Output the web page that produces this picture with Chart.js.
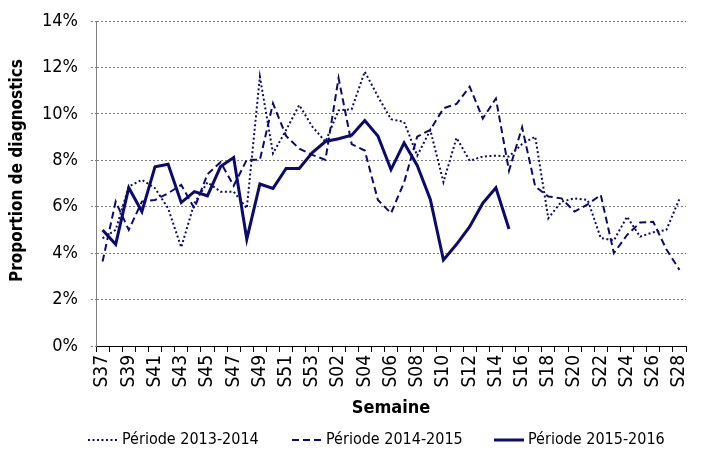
<!DOCTYPE html>
<html>
<head>
<meta charset="utf-8">
<script src="https://cdn.jsdelivr.net/npm/chart.js@4/dist/chart.umd.min.js"></script>
<style>
  html, body { margin: 0; padding: 0; background: #ffffff; }
  #wrap { width: 702px; height: 457px; position: relative; }
</style>
</head>
<body>
<div id="wrap"><canvas id="c" width="702" height="457"></canvas></div>
<script>
const weeks = ['S37','S38','S39','S40','S41','S42','S43','S44','S45','S46','S47','S48','S49','S50','S51','S52','S53',
  'S01','S02','S03','S04','S05','S06','S07','S08','S09','S10','S11','S12','S13','S14','S15','S16','S17','S18','S19',
  'S20','S21','S22','S23','S24','S25','S26','S27','S28'];

const periode2013_2014 = [4.64, 5.0, 6.87, 7.16, 6.8, 5.93, 4.25, 6.15, 7.05, 6.65, 6.65, 5.93, 11.6, 8.3, 9.3, 10.38, 9.45,
  8.8, 10.15, 10.2, 11.82, 10.75, 9.77, 9.65, 8.2, 9.3, 7.06, 8.97, 7.98, 8.16, 8.2, 8.16, 8.7, 9.02, 5.5, 6.22,
  6.36, 6.29, 4.65, 4.55, 5.57, 4.71, 4.9, 5.0, 6.34];

const periode2014_2015 = [3.64, 6.22, 5.0, 6.22, 6.29, 6.58, 6.94, 5.93, 7.4, 7.92, 6.9, 8.02, 8.02, 10.45, 9.05, 8.5, 8.23,
  8.02, 11.54, 8.7, 8.42, 6.29, 5.72, 7.05, 9.02, 9.31, 10.24, 10.43, 11.17, 9.8, 10.66, 7.55, 9.42, 6.87, 6.44, 6.36,
  5.79, 6.1, 6.51, 4.0, 4.78, 5.32, 5.35, 4.17, 3.28];

const periode2015_2016 = [5.0, 4.38, 6.82, 5.79, 7.72, 7.83, 6.18, 6.65, 6.47, 7.73, 8.12, 4.6, 6.98, 6.79, 7.65, 7.65, 8.33,
  8.81, 8.93, 9.08, 9.71, 9.05, 7.6, 8.75, 7.78, 6.31, 3.71, 4.38, 5.14, 6.15, 6.82, 5.04, null, null, null, null,
  null, null, null, null, null, null, null, null, null];

const yTicks = [0, 2, 4, 6, 8, 10, 12, 14];

const seriesNames = ['Période 2013-2014', 'Période 2014-2015', 'Période 2015-2016'];
const yTitle = 'Proportion de diagnostics';
const xTitle = 'Semaine';

const NAVY = '#0b0b6e';
const FONT = "'Liberation Sans Narrow', 'DejaVu Sans Condensed', 'Open Sans', sans-serif";

// legend layout (sample start, sample end, text start) in canvas px
const legendLayout = { y: 440, items: [[88, 118, 122], [292, 322, 326], [494, 524, 528]] };

const yTitlePlugin = {
  id: 'yTitlePlugin',
  afterDraw(chart) {
    const ctx = chart.ctx;
    const a = chart.chartArea;
    ctx.save();
    ctx.translate(18, (a.top + a.bottom) / 2 - 13);
    ctx.rotate(-Math.PI / 2);
    ctx.textAlign = 'center';
    ctx.textBaseline = 'middle';
    ctx.fillStyle = '#000';
    ctx.font = "bold 17px " + FONT;
    ctx.fillText(yTitle, 0, 0);
    ctx.restore();
  }
};

const legendPlugin = {
  id: 'customLegend',
  afterDraw(chart) {
    const ctx = chart.ctx;
    const y = legendLayout.y;
    chart.data.datasets.forEach((ds, i) => {
      const [s, e, t] = legendLayout.items[i];
      ctx.save();
      ctx.strokeStyle = ds.borderColor;
      ctx.lineWidth = ds.borderWidth;
      ctx.lineCap = 'butt';
      ctx.setLineDash(ds.borderDash || []);
      ctx.beginPath();
      ctx.moveTo(s, y);
      ctx.lineTo(e, y);
      ctx.stroke();
      ctx.setLineDash([]);
      ctx.fillStyle = '#000';
      ctx.font = "16px " + FONT;
      ctx.textAlign = 'left';
      ctx.textBaseline = 'middle';
      ctx.fillText(ds.label, t, y);
      ctx.restore();
    });
  }
};

new Chart(document.getElementById('c'), {
  type: 'line',
  data: {
    labels: weeks,
    datasets: [
      { label: seriesNames[0], data: periode2013_2014, borderColor: NAVY, backgroundColor: NAVY,
        borderWidth: 2, borderDash: [2, 2.5], pointRadius: 0, tension: 0, fill: false },
      { label: seriesNames[1], data: periode2014_2015, borderColor: NAVY, backgroundColor: NAVY,
        borderWidth: 2, borderDash: [7, 4], pointRadius: 0, tension: 0, fill: false },
      { label: seriesNames[2], data: periode2015_2016, borderColor: NAVY, backgroundColor: NAVY,
        borderWidth: 3, pointRadius: 0, tension: 0, fill: false, spanGaps: false }
    ]
  },
  options: {
    responsive: false,
    animation: false,
    devicePixelRatio: 1,
    layout: { padding: { top: 21, right: 16, left: 0, bottom: 36 } },
    plugins: {
      legend: { display: false },
      tooltip: { enabled: false }
    },
    scales: {
      x: {
        offset: true,
        grid: { drawOnChartArea: false, drawTicks: true, tickLength: 6, offset: true, color: '#000', tickColor: '#000' },
        border: { display: true, color: '#000', width: 1 },
        ticks: {
          autoSkip: false, minRotation: 90, maxRotation: 90, padding: 3,
          color: '#000', font: { family: FONT, size: 19 },
          callback: function(v, i) { return i % 2 === 0 ? weeks[i] : ''; }
        },
        title: { display: true, text: xTitle, color: '#000', font: { family: FONT, size: 18, weight: 'bold' }, padding: { top: 2, bottom: 2 } },
        afterFit(scale) { scale.height = 75; scale.paddingLeft = 0; scale.paddingRight = 0; }
      },
      y: {
        min: 0, max: 14,
        afterBuildTicks(scale) { scale.ticks = yTicks.map(v => ({ value: v })); },
        grid: { color: '#7f7f7f', tickColor: '#7f7f7f', tickLength: 5, lineWidth: 1, tickBorderDash: [2, 2] },
        border: { display: true, color: '#7f7f7f', width: 1, dash: [2, 2] },
        ticks: { padding: 13, color: '#000', font: { family: FONT, size: 18 }, callback: v => v + '%' },
        title: { display: false },
        afterFit(scale) { scale.width = 96; scale.paddingTop = 0; scale.paddingBottom = 0; }
      }
    }
  },
  plugins: [yTitlePlugin, legendPlugin]
});
</script>
</body>
</html>
